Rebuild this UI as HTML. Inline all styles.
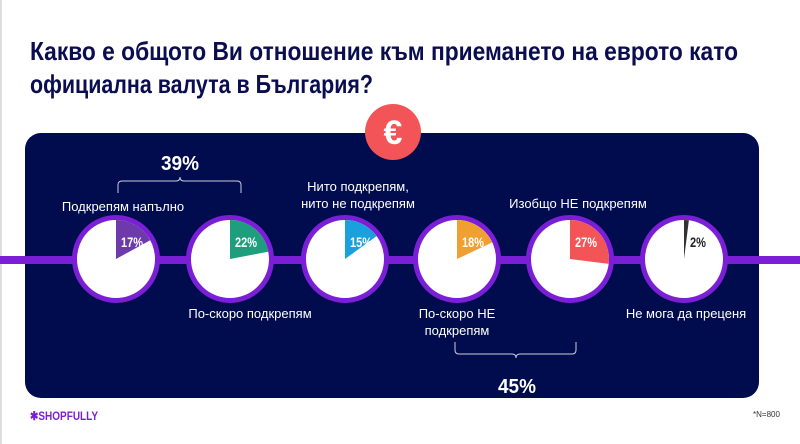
<!DOCTYPE html>
<html><head><meta charset="utf-8"><style>
html,body{margin:0;padding:0;background:#fff;width:800px;height:444px;overflow:hidden}
svg text{font-family:"Liberation Sans","Noto Sans CJK SC",sans-serif}
</style></head><body>
<svg width="800" height="444" viewBox="0 0 800 444" xmlns="http://www.w3.org/2000/svg">
<rect x="0" y="0" width="800" height="444" fill="#fff"/>
<line x1="1" y1="0" x2="1" y2="444" stroke="#ddd" stroke-width="2"/>
<text x="30" y="60" font-size="26" font-weight="bold" fill="#0a0d4f" textLength="708" lengthAdjust="spacingAndGlyphs">Какво е общото Ви отношение към приемането на еврото като</text>
<text x="30" y="93" font-size="26" font-weight="bold" fill="#0a0d4f" textLength="343" lengthAdjust="spacingAndGlyphs">официална валута в България?</text>
<rect x="25" y="133" width="734" height="265" rx="16" fill="#000c4e"/>
<rect x="0" y="256" width="800" height="8" fill="#7b1fd6"/>
<circle cx="393" cy="132" r="28" fill="#f25457"/>
<text x="393" y="144" font-size="34" font-weight="bold" fill="#fff" text-anchor="middle">€</text>
<g fill="#fff" font-size="13" text-anchor="middle">
<text x="123" y="211">Подкрепям напълно</text>
<text x="250" y="318">По-скоро подкрепям</text>
<text x="358" y="191">Нито подкрепям,</text>
<text x="358" y="208">нито не подкрепям</text>
<text x="457" y="318">По-скоро НЕ</text>
<text x="457" y="335">подкрепям</text>
<text x="578" y="208">Изобщо НЕ подкрепям</text>
<text x="686" y="318">Не мога да преценя</text>
<text x="180" y="170" font-size="20" font-weight="bold" textLength="38" lengthAdjust="spacingAndGlyphs">39%</text>
<text x="517" y="393" font-size="20" font-weight="bold" textLength="38" lengthAdjust="spacingAndGlyphs">45%</text>
</g>
<g fill="none" stroke="#ccd" stroke-width="1">
<path d="M118 193 V185 Q118 181 122 181 H176 Q180 181 180 177 Q180 181 184 181 H237 Q241 181 241 185 V193"/>
<path d="M455 342 V350 Q455 354 459 354 H512 Q516 354 516 358 Q516 354 520 354 H572 Q576 354 576 350 V342"/>
</g>
<g id="pies"></g>
<text x="30" y="420" font-size="12" font-weight="bold" fill="#7b1fd6" textLength="68" lengthAdjust="spacingAndGlyphs">✱SHOPFULLY</text>
<text x="753" y="417" font-size="8" fill="#333">*N=800</text>
</svg>
<script>
var d=[[116,17,"#6e3aab","17%"],[230,22,"#1f9e7e","22%"],[345,15,"#1aa0dc","15%"],[457,18,"#f0a030","18%"],[570,27,"#f25457","27%"],[684,2,"#333","2%"]];
var g=document.getElementById("pies"),ns="http://www.w3.org/2000/svg",cy=259,r=39;
d.forEach(function(p){
var c=document.createElementNS(ns,"circle");c.setAttribute("cx",p[0]);c.setAttribute("cy",cy);c.setAttribute("r",r+2.5);c.setAttribute("fill","#fff");c.setAttribute("stroke","#7b1fd6");c.setAttribute("stroke-width","5");g.appendChild(c);
var a=p[1]/100*2*Math.PI,x=p[0]+r*Math.sin(a),y=cy-r*Math.cos(a);
var s=document.createElementNS(ns,"path");s.setAttribute("d","M"+p[0]+" "+cy+" L"+p[0]+" "+(cy-r)+" A"+r+" "+r+" 0 0 1 "+x+" "+y+" Z");s.setAttribute("fill",p[2]);g.appendChild(s);
var t=document.createElementNS(ns,"text");t.setAttribute("x",p[0]+(p[1]<5?6:5));t.setAttribute("y",cy-12);t.setAttribute("font-size","14");t.setAttribute("font-weight","bold");t.setAttribute("textLength",p[1]<5?"16":"22");t.setAttribute("lengthAdjust","spacingAndGlyphs");t.setAttribute("fill",p[1]<5?"#222":"#fff");t.textContent=p[3];g.appendChild(t);
});
</script>
</body></html>
